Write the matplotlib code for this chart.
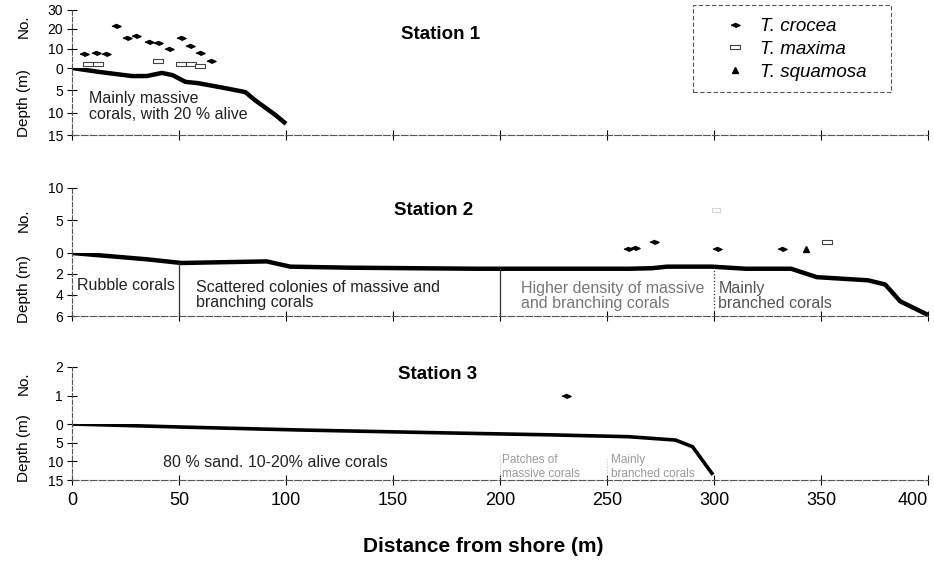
import numpy as np
import matplotlib
matplotlib.use('Agg')
import matplotlib.pyplot as plt
from matplotlib.lines import Line2D
from matplotlib.patches import Rectangle

plt.rcParams['font.family'] = ['Liberation Sans', 'DejaVu Sans']

W, H = 934, 562

# Station 1
s1_depth_x = [0, 13, 28, 35, 42, 47, 53, 59, 71.5, 81, 85.5, 95, 100]
s1_depth = [0, 0.9, 1.8, 1.8, 1.1, 1.6, 3.1, 3.4, 4.5, 5.4, 7.2, 10.5, 12.5]
s1_crocea_x = [5.6, 11.4, 16, 20.7, 25.8, 30, 36, 40, 45.4, 50.8, 55, 60, 65]
s1_crocea_n = [7.2, 7.7, 7.2, 21.5, 15.4, 16.4, 13.3, 12.8, 9.7, 15.4, 11.3, 7.7, 3.6]
s1_maxima_x = [7.4, 12, 40, 51, 55.6, 60]
s1_maxima_n = [2.3, 2.3, 3.8, 2.3, 2.3, 1.0]

# Station 2
s2_depth_x = [0, 35, 51, 91, 102, 130, 190, 260, 271, 278, 299, 315, 336, 348, 372, 380, 387, 400]
s2_depth = [0, 0.6, 0.95, 0.8, 1.3, 1.4, 1.5, 1.5, 1.45, 1.3, 1.3, 1.5, 1.5, 2.3, 2.6, 3.0, 4.6, 5.9]
s2_crocea_x = [260, 263, 272, 301.6, 332]
s2_crocea_n = [0.6, 0.7, 1.7, 0.6, 0.6]
s2_maxima_x = [301, 353]
s2_maxima_n = [6.6, 1.7]
s2_squamosa_x = [343]
s2_squamosa_n = [0.6]
s2_zones = [50, 200, 300]

# Station 3
s3_depth_x = [0, 50, 106, 176, 223, 260, 282, 290, 299.5]
s3_depth = [0, 0.8, 1.6, 2.4, 2.9, 3.4, 4.3, 6.1, 13.6]
s3_crocea_x = [231]
s3_crocea_n = [1]
s3_zones = [200, 250, 300]

x_ticks = [0, 50, 100, 150, 200, 250, 300, 350, 400]

crocea_m = [(-1, 0), (0, 0.45), (1, 0), (0, -0.45)]
maxima_m = [(-1, -0.5), (1, -0.5), (1, 0.5), (-1, 0.5), (-1, -0.5)]
sty_c = dict(marker=crocea_m, ms=6.5, color='black', ls='none')
sty_m = dict(marker=maxima_m, ms=7, mfc='white', mec='#444', mew=0.8, ls='none')
sty_s = dict(marker='^', ms=5, color='black', ls='none')

fig = plt.figure(figsize=(W / 100, H / 100), dpi=100)


def px_axes(top, bottom):
    return fig.add_axes([72 / W, 1 - bottom / H, (928 - 72) / W, (bottom - top) / H])


def style_left(ax):
    for s in ['top', 'right', 'bottom']:
        ax.spines[s].set_visible(False)
    ax.spines['left'].set_linestyle((0, (4, 2)))
    ax.spines['left'].set_color('#555')
    ax.spines['left'].set_linewidth(0.8)
    ax.tick_params(axis='y', direction='inout', length=7, width=0.8, labelsize=10, pad=3)
    ax.set_xlim(0, 400)
    ax.patch.set_alpha(0)


def make_station(top, mid, bottom, nmax, nticks, dmax, dticks):
    axn = px_axes(top, mid)
    style_left(axn)
    axn.set_ylim(0, nmax)
    axn.set_yticks(nticks)
    axn.set_xticks([])
    axd = px_axes(mid, bottom)
    style_left(axd)
    axd.spines['bottom'].set_visible(True)
    axd.spines['bottom'].set_linestyle((0, (6, 2)))
    axd.spines['bottom'].set_color('#555')
    axd.spines['bottom'].set_linewidth(0.8)
    axd.set_ylim(dmax, 0)
    axd.set_yticks(dticks)
    axd.set_xticks(x_ticks)
    axd.tick_params(axis='x', direction='inout', length=7, width=0.8, labelbottom=False)
    return axn, axd


# Station 1
a1n, a1d = make_station(9.5, 68, 135, 30, [10, 20, 30], 15, [0, 5, 10, 15])
a1d.plot(s1_depth_x, s1_depth, color='black', lw=3.2, solid_capstyle='butt')
a1n.plot(s1_crocea_x, s1_crocea_n, clip_on=False, **sty_c)
a1n.plot(s1_maxima_x, s1_maxima_n, clip_on=False, **sty_m)
a1n.text(172, 17, 'Station 1', fontsize=13.5, fontweight='bold', ha='center', va='center')
a1d.text(8, 8.6, 'Mainly massive\ncorals, with 20 % alive', fontsize=11.5, color='#222',
         ha='left', va='center', linespacing=1.05)

# Station 2
a2n, a2d = make_station(188, 253, 316, 10, [5, 10], 6, [0, 2, 4, 6])
a2d.plot(s2_depth_x, s2_depth, color='black', lw=3.2, solid_capstyle='butt')
for i, z in enumerate(s2_zones):
    d0 = np.interp(z, s2_depth_x, s2_depth)
    ls = ':' if i == 2 else '-'
    a2d.plot([z, z], [d0, 6], color='#333', lw=0.9, ls=ls)
a2n.plot(s2_crocea_x, s2_crocea_n, clip_on=False, **sty_c)
a2n.plot(s2_maxima_x[:1], s2_maxima_n[:1], marker=maxima_m, ms=6, mfc='white', mec='#ccc',
         mew=0.6, ls='none')
a2n.plot(s2_maxima_x[1:], s2_maxima_n[1:], clip_on=False, **sty_m)
a2n.plot(s2_squamosa_x, s2_squamosa_n, clip_on=False, **sty_s)
a2n.text(169, 6.6, 'Station 2', fontsize=13.5, fontweight='bold', ha='center', va='center')
a2d.text(2.3, 3.1, 'Rubble corals', fontsize=11.5, color='#222', va='center')
a2d.text(58, 4.0, 'Scattered colonies of massive and\nbranching corals', fontsize=11.5,
         color='#222', va='center', linespacing=1.05)
a2d.text(210, 4.1, 'Higher density of massive\nand branching corals', fontsize=11.5,
         color='#777', va='center', linespacing=1.05)
a2d.text(302, 4.1, 'Mainly\nbranched corals', fontsize=11.5, color='#555', va='center',
         linespacing=1.05)

# Station 3
a3n, a3d = make_station(367, 424, 480, 2, [1, 2], 15, [0, 5, 10, 15])
a3d.plot(s3_depth_x, s3_depth, color='black', lw=2.6, solid_capstyle='butt')
for z in s3_zones[:2]:
    d0 = np.interp(z, s3_depth_x, s3_depth)
    a3d.plot([z, z], [d0 + 6, 15], color='#bbb', lw=0.7, ls=':')
a3n.plot(s3_crocea_x, s3_crocea_n, clip_on=False, **sty_c)
a3n.text(171, 1.75, 'Station 3', fontsize=13.5, fontweight='bold', ha='center', va='center')
a3d.text(42.5, 10.2, '80 % sand. 10-20% alive corals', fontsize=11.5, color='#222', va='center')
a3d.text(201, 11.5, 'Patches of\nmassive corals', fontsize=8.5, color='#999', va='center',
         linespacing=1.3)
a3d.text(252, 11.5, 'Mainly\nbranched corals', fontsize=8.5, color='#999', va='center',
         linespacing=1.3)
a3d.tick_params(axis='x', labelbottom=True, labelsize=13, pad=5)
a3d.get_xticklabels()[-1].set_horizontalalignment('right')

# y labels
for yc, lab in [(26, 'No.'), (103, 'Depth (m)'), (220, 'No.'), (289, 'Depth (m)'),
                (383, 'No.'), (448, 'Depth (m)')]:
    fig.text(24 / W, 1 - yc / H, lab, rotation=90, ha='center', va='center', fontsize=11)

fig.text(483 / W, 1 - 547 / H, 'Distance from shore (m)', ha='center', va='center',
         fontsize=15, fontweight='bold')

# legend with a dashed box drawn separately
handles = [Line2D([], [], **sty_c), Line2D([], [], **sty_m), Line2D([], [], **sty_s)]
leg = fig.legend(handles, ['T. crocea', 'T. maxima', 'T. squamosa'], loc='upper left',
                 bbox_to_anchor=(720 / W, 1 - 18 / H), frameon=False,
                 prop=dict(style='italic', size=13.5), handlelength=1.6,
                 handletextpad=0.55, borderpad=0, labelspacing=0.3, borderaxespad=0)
fig.patches.append(Rectangle((693 / W, 1 - 92 / H), (891 - 693) / W, 87 / H,
                             transform=fig.transFigure, fill=False, edgecolor='#555',
                             lw=0.8, ls=(0, (4, 2))))

fig.savefig('out.png', dpi=100)
